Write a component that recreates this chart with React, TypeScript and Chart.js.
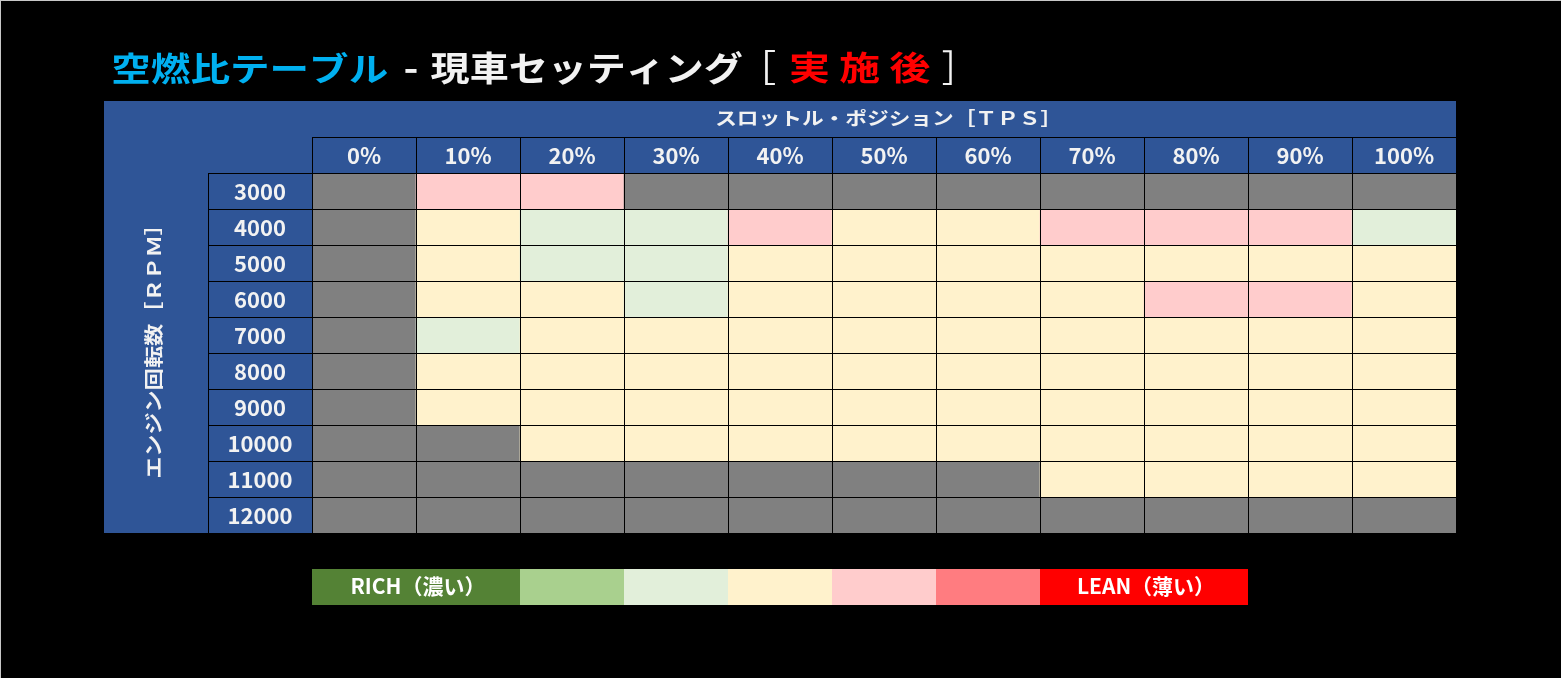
import { useEffect, useRef } from 'react';
import { Chart, registerables } from 'chart.js';

Chart.register(...registerables);

// ---- Data ----
const tpsLabels = ['0%', '10%', '20%', '30%', '40%', '50%', '60%', '70%', '80%', '90%', '100%'];
const rpmLabels = ['3000', '4000', '5000', '6000', '7000', '8000', '9000', '10000', '11000', '12000'];

// codes: 0 = no data (grey), 1 = RICH, 2 = rich-ish, 3 = slightly rich, 4 = target, 5 = slightly lean, 6 = lean-ish, 7 = LEAN
const rpm3000 = [0, 5, 5, 0, 0, 0, 0, 0, 0, 0, 0];
const rpm4000 = [0, 4, 3, 3, 5, 4, 4, 5, 5, 5, 3];
const rpm5000 = [0, 4, 3, 3, 4, 4, 4, 4, 4, 4, 4];
const rpm6000 = [0, 4, 4, 3, 4, 4, 4, 4, 5, 5, 4];
const rpm7000 = [0, 3, 4, 4, 4, 4, 4, 4, 4, 4, 4];
const rpm8000 = [0, 4, 4, 4, 4, 4, 4, 4, 4, 4, 4];
const rpm9000 = [0, 4, 4, 4, 4, 4, 4, 4, 4, 4, 4];
const rpm10000 = [0, 0, 4, 4, 4, 4, 4, 4, 4, 4, 4];
const rpm11000 = [0, 0, 0, 0, 0, 0, 0, 4, 4, 4, 4];
const rpm12000 = [0, 0, 0, 0, 0, 0, 0, 0, 0, 0, 0];
const rowCodes = [rpm3000, rpm4000, rpm5000, rpm6000, rpm7000, rpm8000, rpm9000, rpm10000, rpm11000, rpm12000];

const cellColors = ['#808080', '#548235', '#A9D08E', '#E2EFDA', '#FFF2CC', '#FFCCCC', '#FF7C80', '#FF0000'];

const legendCodes = [1, 2, 3, 4, 5, 6, 7];
const legendSpans = [2, 1, 1, 1, 1, 1, 2];
const legendLabels = ['RICH（濃い）', '', '', '', '', '', 'LEAN（薄い）'];

const titleMain = '空燃比テーブル';
const titleDash = '-';
const titleSub = '現車セッティング';
const titleOpen = '［';
const titleState = '実 施 後';
const titleClose = '］';
const xAxisTitle = 'スロットル・ポジション［ＴＰＳ］';
const yAxisTitle = 'エンジン回転数［ＲＰＭ］';

const FONT = '"Noto Sans CJK JP", "Noto Sans", sans-serif';
const BLUE = '#2F5597';
const TEXT = '#F2F2F2';

function fitText(ctx: CanvasRenderingContext2D, text: string, left: number, right: number, top: number, bottom: number, weight: string) {
  ctx.save();
  ctx.font = `${weight} 100px ${FONT}`;
  ctx.textAlign = 'left';
  ctx.textBaseline = 'alphabetic';
  const m = ctx.measureText(text);
  const inkW = m.actualBoundingBoxLeft + m.actualBoundingBoxRight;
  const inkH = m.actualBoundingBoxAscent + m.actualBoundingBoxDescent;
  ctx.translate(left, top);
  ctx.scale((right - left) / inkW, (bottom - top) / inkH);
  ctx.fillText(text, m.actualBoundingBoxLeft, m.actualBoundingBoxAscent);
  ctx.restore();
}

function centerText(ctx: CanvasRenderingContext2D, text: string, cx: number, cy: number, font: string, refText?: string) {
  ctx.save();
  ctx.font = font;
  ctx.textAlign = 'center';
  ctx.textBaseline = 'alphabetic';
  const m = ctx.measureText(refText || text);
  ctx.fillText(text, cx, cy + (m.actualBoundingBoxAscent - m.actualBoundingBoxDescent) / 2);
  ctx.restore();
}

export default function App() {
  const ref = useRef<HTMLCanvasElement>(null);

  useEffect(() => {
    document.body.style.margin = '0';
    document.body.style.background = '#000';
    const canvas = ref.current;
    if (!canvas) return;

    const decor = {
      id: 'tableDecor',
      beforeDraw(chart: any) {
        const ctx: CanvasRenderingContext2D = chart.ctx;
        const { left, right, top, bottom } = chart.chartArea;
        const xs = chart.scales.x;
        const ys = chart.scales.y;
        const colW = xs.getPixelForValue(1) - xs.getPixelForValue(0);
        const rowH = ys.getPixelForValue(1) - ys.getPixelForValue(0);
        ctx.save();
        ctx.fillStyle = '#000';
        ctx.fillRect(0, 0, chart.width, chart.height);
        ctx.fillStyle = '#C8C8C8';
        ctx.fillRect(0, 0, chart.width, 1);
        ctx.fillRect(0, 0, 1, chart.height);
        // blue block
        ctx.fillStyle = BLUE;
        ctx.fillRect(left - colW * 2, top - rowH * 2, right - left + colW * 2, bottom - top + rowH * 2);
        ctx.restore();
      },
      afterDatasetsDraw(chart: any) {
        const ctx: CanvasRenderingContext2D = chart.ctx;
        const { left, right, top, bottom } = chart.chartArea;
        const xs = chart.scales.x;
        const ys = chart.scales.y;
        const colW = xs.getPixelForValue(1) - xs.getPixelForValue(0);
        const rowH = ys.getPixelForValue(1) - ys.getPixelForValue(0);
        const colLeft = (i: number) => Math.round(xs.getPixelForValue(i) - colW / 2);
        const rowTop = (i: number) => Math.round(ys.getPixelForValue(i));

        ctx.save();
        ctx.fillStyle = '#000';
        for (let i = 0; i <= tpsLabels.length; i++) {
          ctx.fillRect(colLeft(i), Math.round(top - rowH), 1, Math.round(bottom - top + rowH) + 1);
        }
        ctx.fillRect(Math.round(left - colW), Math.round(top), 1, Math.round(bottom - top) + 1);
        ctx.fillRect(Math.round(left), Math.round(top - rowH), Math.round(right - left) + 1, 1);
        for (let r = 0; r <= rpmLabels.length; r++) {
          ctx.fillRect(Math.round(left - colW), rowTop(r), Math.round(right - left + colW) + 1, 1);
        }

        ctx.fillStyle = TEXT;
        tpsLabels.forEach((lab, i) => {
          centerText(ctx, lab, xs.getPixelForValue(i), top - rowH / 2 + 0.5, `bold 22px ${FONT}`, '0');
        });
        rpmLabels.forEach((lab, r) => {
          centerText(ctx, lab, left - colW / 2, ys.getPixelForValue(r + 0.5) + 0.5, `bold 22px ${FONT}`, '0');
        });

        fitText(ctx, xAxisTitle, 716.7, 1046.7, 109.3, 126.7, 'bold');
        ctx.save();
        ctx.translate(left - colW * 1.5 - 2, (top + bottom) / 2);
        ctx.rotate(-Math.PI / 2);
        fitText(ctx, yAxisTitle, -124.3, 124.3, -9, 9.3, 'bold');
        ctx.restore();

        ctx.fillStyle = '#00B0F0';
        fitText(ctx, titleMain, 113.3, 387, 51.5, 84, 'bold');
        ctx.fillStyle = TEXT;
        fitText(ctx, titleDash, 405, 416.7, 69, 73, 'bold');
        fitText(ctx, titleSub, 431, 742, 51, 85, 'bold');
        fitText(ctx, titleOpen, 765, 775, 50, 85, 'normal');
        ctx.fillStyle = '#FF0000';
        fitText(ctx, titleState, 790.7, 930, 51.7, 83.5, 'bold');
        ctx.fillStyle = TEXT;
        fitText(ctx, titleClose, 942.7, 951.7, 50, 85, 'normal');

        const legTop = Math.round(bottom + rowH);
        let col = 0;
        legendCodes.forEach((code, k) => {
          const span = legendSpans[k];
          const x0 = colLeft(col);
          const x1 = colLeft(col + span);
          ctx.fillStyle = cellColors[code];
          ctx.fillRect(x0, legTop, x1 - x0, Math.round(rowH));
          if (legendLabels[k]) {
            ctx.fillStyle = '#FFFFFF';
            centerText(ctx, legendLabels[k], (x0 + x1) / 2 + 2, legTop + rowH / 2 - 1, `bold 21px ${FONT}`, 'R');
          }
          col += span;
        });
        ctx.restore();
      },
    };

    const chart = new Chart(canvas, {
      type: 'bar',
      data: {
        labels: tpsLabels,
        datasets: rowCodes.map((codes, r) => ({
          label: rpmLabels[r],
          data: codes.map(() => 1),
          backgroundColor: codes.map((c) => cellColors[c]),
          borderWidth: 0,
          barPercentage: 1,
          categoryPercentage: 1,
        })),
      },
      options: {
        responsive: false,
        maintainAspectRatio: false,
        animation: false,
        devicePixelRatio: 1,
        layout: { padding: { left: 312, right: 105, top: 173, bottom: 145 } },
        plugins: {
          legend: { display: false },
          tooltip: { enabled: false },
          title: { display: false },
        },
        scales: {
          x: { display: false, stacked: true, offset: true },
          y: { display: false, stacked: true, min: 0, max: 10, reverse: true },
        },
      },
      plugins: [decor],
    });
    return () => chart.destroy();
  }, []);

  return (
    <div style={{ width: 1561, height: 678, position: 'relative', background: '#000' }}>
      <canvas ref={ref} width={1561} height={678} style={{ display: 'block', width: 1561, height: 678 }} />
    </div>
  );
}
